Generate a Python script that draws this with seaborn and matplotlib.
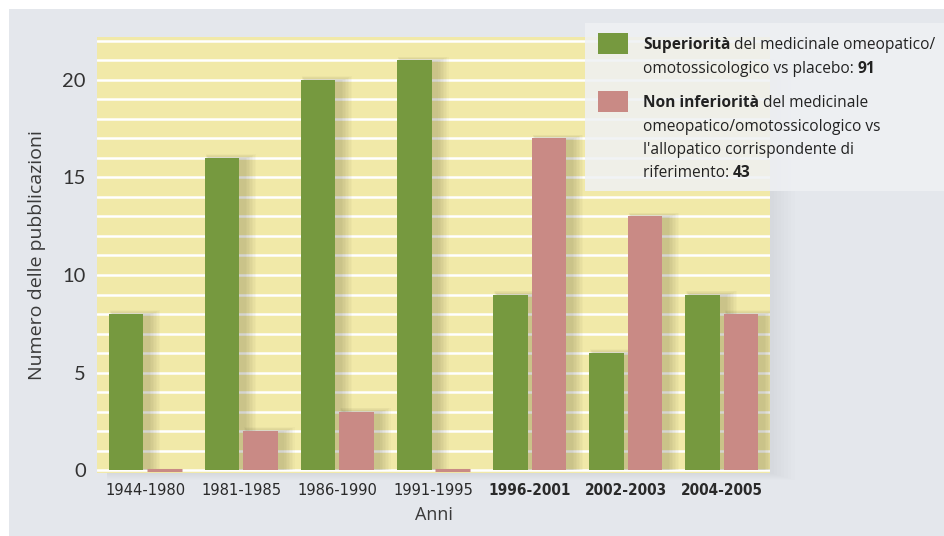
import matplotlib
matplotlib.use("Agg")
import matplotlib.pyplot as plt
from matplotlib.patches import Rectangle
from matplotlib import font_manager as fm
import seaborn as sns
import pandas as pd

# Publication counts per period
periods = ["1944-1980", "1981-1985", "1986-1990", "1991-1995",
           "1996-2001", "2002-2003", "2004-2005"]
superiority = [8, 16, 20, 21, 9, 6, 9]
non_inferiority = [0, 2, 3, 0, 17, 13, 8]
bold_periods = ["1996-2001", "2002-2003", "2004-2005"]
y_ticks = [0, 5, 10, 15, 20]

GREEN = "#76993f"
PINK = "#c98a85"
YELLOW = "#f1e9a8"
PANEL = "#e4e7ec"
TEXT = "#2a2a2a"

df = pd.DataFrame({
    "Periodo": periods * 2,
    "Tipo": ["sup"] * len(periods) + ["noninf"] * len(periods),
    "Pubblicazioni": superiority + non_inferiority,
})

sns.set_theme(style="white")
plt.rcParams["font.family"] = ["Open Sans", "DejaVu Sans"]

# narrow face for the period labels, if one is available
cond_path = fm.findfont(fm.FontProperties(family="DejaVu Sans", stretch="condensed"))
if "Condensed" in cond_path:
    tick_font = dict(family="DejaVu Sans", stretch="condensed", size=11.8)
else:
    tick_font = dict(family="Roboto", size=11)

W, H = 944, 536
fig = plt.figure(figsize=(W / 100, H / 100), dpi=100)
fig.patch.set_facecolor("white")

# grey backdrop panel
fig.add_artist(Rectangle((9 / W, 0), 1, 1 - 9 / H, transform=fig.transFigure,
                         facecolor=PANEL, edgecolor="none", zorder=-3))

AX_L, AX_T, AX_W, AX_H = 97, 37, 673, 436
# faint shadow along the right side of the plotting area
for k in range(1, 8):
    fig.add_artist(Rectangle(((AX_L + 10) / W, 1 - (AX_T + AX_H + k) / H),
                             (AX_W - 10 + k * 3.5) / W, (AX_H - 20) / H,
                             transform=fig.transFigure, facecolor="black",
                             edgecolor="none", alpha=0.006, zorder=-2))

ax = fig.add_axes([AX_L / W, 1 - (AX_T + AX_H) / H, AX_W / W, AX_H / H])
ax.set_facecolor(YELLOW)

sns.barplot(data=df, x="Periodo", y="Pubblicazioni", hue="Tipo",
            palette=[GREEN, PINK], width=0.8, gap=0.1, saturation=1,
            legend=False, ax=ax, zorder=3, linewidth=0)

ax.set_xlim(-0.5, len(periods) - 0.5)
ax.set_ylim(-0.15, 22.2)

# blurred drop shadow to the right of each bar
px_x = AX_W / 7.0
px_y = AX_H / 22.35
bars = list(ax.patches)
for p in bars:
    h = p.get_height()
    if h <= 0:
        continue
    for k in range(1, 9):
        grow = k * 2.0
        ax.add_patch(Rectangle((p.get_x() + (5 - grow * 0.25) / px_x, 0),
                               p.get_width() + grow / px_x,
                               h + (grow * 0.3 - 1) / px_y,
                               facecolor="#3d3a20", edgecolor="none",
                               alpha=0.028, zorder=2))

# zero-height bars still show as a thin stub
for p in bars:
    if p.get_height() == 0:
        p.set_edgecolor(p.get_facecolor())
        p.set_linewidth(2.2)

ax.set_yticks(y_ticks)
ax.set_yticks(range(0, 23), minor=True)
ax.grid(which="minor", axis="y", color="white", linewidth=1.8, zorder=1)
ax.grid(which="major", axis="y", color="white", linewidth=1.8, zorder=1)
ax.set_axisbelow(True)
for s in ax.spines.values():
    s.set_visible(False)
ax.tick_params(axis="both", which="both", length=0, labelcolor=TEXT)
ax.tick_params(axis="y", pad=8)
ax.tick_params(axis="x", pad=7)

for lbl in ax.get_yticklabels():
    lbl.set_fontfamily(["Lato", "DejaVu Sans"])
    lbl.set_fontsize(14.5)
    lbl.set_color("#333333")

for lbl in ax.get_xticklabels():
    lbl.set_fontproperties(fm.FontProperties(**tick_font))
    lbl.set_color(TEXT)
    if lbl.get_text() in bold_periods:
        lbl.set_fontweight("bold")
        lbl.set_fontsize(tick_font["size"] - 0.8)

ax.set_xlabel("Anni", fontsize=13, color="#3a3a3a", labelpad=6)
ax.set_ylabel("Numero delle pubblicazioni", fontsize=14, color="#3a3a3a",
              labelpad=12)

# legend panel
fig.add_artist(Rectangle((585 / W, 1 - 191 / H), 1, 168 / H,
                         transform=fig.transFigure, facecolor="#eff1f4",
                         edgecolor="none", alpha=0.85, zorder=4))

renderer = fig.canvas.get_renderer()


def rich_line(x_px, y_px, pieces, size=11.2):
    x = x_px / W
    for text, bold in pieces:
        t = fig.text(x, 1 - y_px / H, text, fontsize=size, color="#222222",
                     fontweight="bold" if bold else "normal",
                     va="center", ha="left", zorder=6)
        bb = t.get_window_extent(renderer)
        x = bb.x1 / W


fig.add_artist(Rectangle((598 / W, 1 - 54 / H), 30 / W, 21 / H,
                         transform=fig.transFigure, facecolor=GREEN,
                         edgecolor="none", zorder=5))
fig.add_artist(Rectangle((598 / W, 1 - 112 / H), 30 / W, 21 / H,
                         transform=fig.transFigure, facecolor=PINK,
                         edgecolor="none", zorder=5))

x0 = 643
rich_line(x0, 45, [("Superiorità", True), (" del medicinale omeopatico/", False)])
rich_line(x0, 69, [("omotossicologico vs placebo: ", False), ("91", True)])
rich_line(x0, 103, [("Non inferiorità", True), (" del medicinale", False)])
rich_line(x0, 127, [("omeopatico/omotossicologico vs", False)])
rich_line(x0, 150, [("l'allopatico corrispondente di", False)])
rich_line(x0, 173, [("riferimento: ", False), ("43", True)])

fig.savefig("out.png", dpi=100)
